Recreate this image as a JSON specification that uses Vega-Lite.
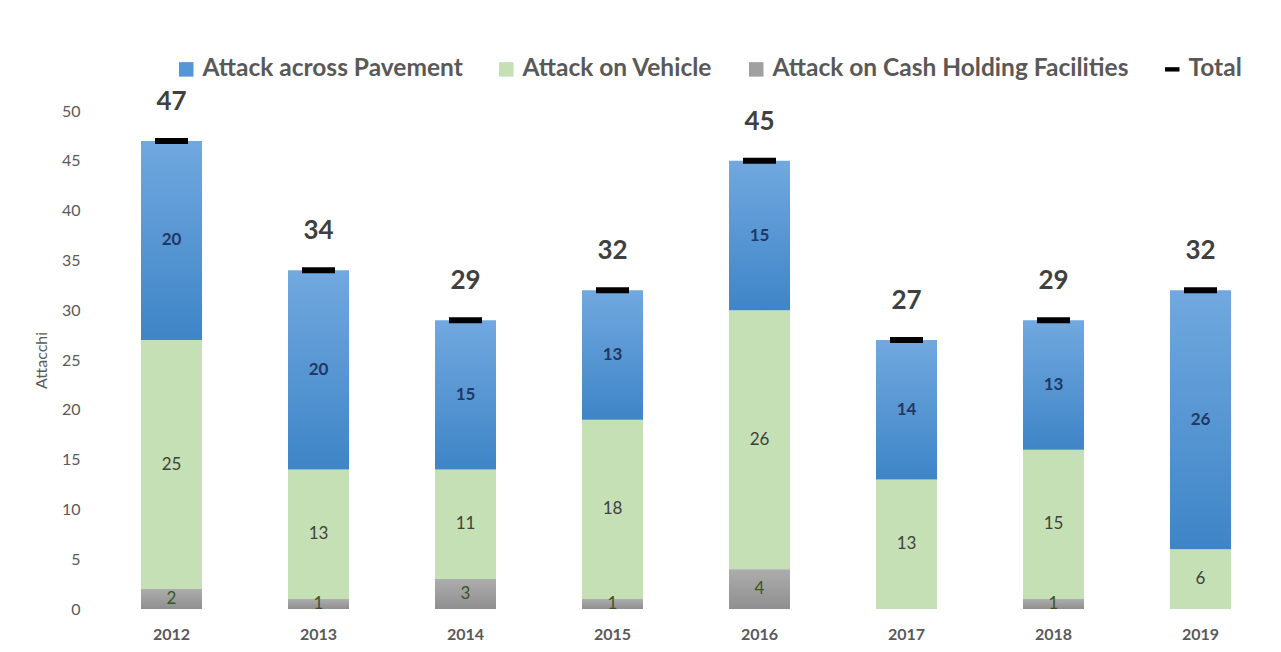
{
  "$schema": "https://vega.github.io/schema/vega-lite/v6.json",
  "width": 1176,
  "height": 498,
  "padding": {"left": 98, "top": 111, "right": 7, "bottom": 43},
  "autosize": {"type": "none"},
  "background": "white",
  "config": {
    "font": "Lato",
    "view": {"stroke": null}
  },
  "datasets": {
    "segs": [
      {"year": "2012", "series": "Attack on Cash Holding Facilities", "ord": 1, "value": 2},
      {"year": "2012", "series": "Attack on Vehicle", "ord": 2, "value": 25},
      {"year": "2012", "series": "Attack across Pavement", "ord": 3, "value": 20},
      {"year": "2013", "series": "Attack on Cash Holding Facilities", "ord": 1, "value": 1},
      {"year": "2013", "series": "Attack on Vehicle", "ord": 2, "value": 13},
      {"year": "2013", "series": "Attack across Pavement", "ord": 3, "value": 20},
      {"year": "2014", "series": "Attack on Cash Holding Facilities", "ord": 1, "value": 3},
      {"year": "2014", "series": "Attack on Vehicle", "ord": 2, "value": 11},
      {"year": "2014", "series": "Attack across Pavement", "ord": 3, "value": 15},
      {"year": "2015", "series": "Attack on Cash Holding Facilities", "ord": 1, "value": 1},
      {"year": "2015", "series": "Attack on Vehicle", "ord": 2, "value": 18},
      {"year": "2015", "series": "Attack across Pavement", "ord": 3, "value": 13},
      {"year": "2016", "series": "Attack on Cash Holding Facilities", "ord": 1, "value": 4},
      {"year": "2016", "series": "Attack on Vehicle", "ord": 2, "value": 26},
      {"year": "2016", "series": "Attack across Pavement", "ord": 3, "value": 15},
      {"year": "2017", "series": "Attack on Cash Holding Facilities", "ord": 1, "value": 0},
      {"year": "2017", "series": "Attack on Vehicle", "ord": 2, "value": 13},
      {"year": "2017", "series": "Attack across Pavement", "ord": 3, "value": 14},
      {"year": "2018", "series": "Attack on Cash Holding Facilities", "ord": 1, "value": 1},
      {"year": "2018", "series": "Attack on Vehicle", "ord": 2, "value": 15},
      {"year": "2018", "series": "Attack across Pavement", "ord": 3, "value": 13},
      {"year": "2019", "series": "Attack on Cash Holding Facilities", "ord": 1, "value": 0},
      {"year": "2019", "series": "Attack on Vehicle", "ord": 2, "value": 6},
      {"year": "2019", "series": "Attack across Pavement", "ord": 3, "value": 26}
    ],
    "totals": [
      {"year": "2012", "series": "Total", "total": 47},
      {"year": "2013", "series": "Total", "total": 34},
      {"year": "2014", "series": "Total", "total": 29},
      {"year": "2015", "series": "Total", "total": 32},
      {"year": "2016", "series": "Total", "total": 45},
      {"year": "2017", "series": "Total", "total": 27},
      {"year": "2018", "series": "Total", "total": 29},
      {"year": "2019", "series": "Total", "total": 32}
    ],
    "legendItems": [
      {"year": "2012", "series": "Attack across Pavement", "v": 0},
      {"year": "2012", "series": "Attack on Vehicle", "v": 0},
      {"year": "2012", "series": "Attack on Cash Holding Facilities", "v": 0},
      {"year": "2012", "series": "Total", "v": 0}
    ]
  },
  "encoding": {
    "x": {
      "field": "year", "type": "nominal",
      "scale": {"paddingInner": 0.585, "paddingOuter": 0.2925},
      "axis": {"title": null, "labelAngle": 0, "domain": false, "ticks": false, "labelFont": "Lato", "labelFontWeight": "bold", "labelFontSize": 16, "labelColor": "#595959", "labelPadding": 17}
    }
  },
  "layer": [
    {
      "data": {"name": "segs"},
      "transform": [
        {"stack": "value", "groupby": ["year"], "sort": [{"field": "ord"}], "as": ["v0", "v1"]},
        {"filter": "datum.series == 'Attack on Vehicle'"}
      ],
      "mark": {"type": "bar", "fill": "#C5E0B4"},
      "encoding": {
        "y": {
          "field": "v1", "type": "quantitative",
          "scale": {"domain": [0, 50]},
          "axis": {"title": "Attacchi", "titleFontWeight": "normal", "titleFontSize": 16, "titleColor": "#595959", "titlePadding": 12, "values": [0,5,10,15,20,25,30,35,40,45,50], "grid": false, "domain": false, "ticks": false, "labelFontSize": 16, "labelColor": "#595959", "labelPadding": 18}
        },
        "y2": {"field": "v0"}
      }
    },
    {
      "data": {"name": "segs"},
      "transform": [
        {"stack": "value", "groupby": ["year"], "sort": [{"field": "ord"}], "as": ["v0", "v1"]},
        {"filter": "datum.series == 'Attack across Pavement'"}
      ],
      "mark": {"type": "bar", "fill": {"gradient": "linear", "x1": 0, "y1": 0, "x2": 0, "y2": 1, "stops": [{"offset": 0, "color": "#71A8DF"}, {"offset": 1, "color": "#3E85C7"}]}},
      "encoding": {"y": {"field": "v1", "type": "quantitative"}, "y2": {"field": "v0"}}
    },
    {
      "data": {"name": "segs"},
      "transform": [
        {"stack": "value", "groupby": ["year"], "sort": [{"field": "ord"}], "as": ["v0", "v1"]},
        {"filter": "datum.series == 'Attack on Cash Holding Facilities' && datum.value > 0"}
      ],
      "mark": {"type": "bar", "fill": {"gradient": "linear", "x1": 0, "y1": 0, "x2": 0, "y2": 1, "stops": [{"offset": 0, "color": "#ADADAD"}, {"offset": 1, "color": "#8F8F8F"}]}},
      "encoding": {"y": {"field": "v1", "type": "quantitative"}, "y2": {"field": "v0"}}
    },
    {
      "data": {"name": "segs"},
      "transform": [
        {"stack": "value", "groupby": ["year"], "sort": [{"field": "ord"}], "as": ["v0", "v1"]},
        {"calculate": "(datum.v0 + datum.v1) / 2", "as": "mid"},
        {"filter": "datum.series == 'Attack across Pavement'"}
      ],
      "mark": {"type": "text", "fontSize": 17, "fontWeight": "bold", "color": "#1F3864", "baseline": "middle"},
      "encoding": {"y": {"field": "mid", "type": "quantitative"}, "text": {"field": "value"}}
    },
    {
      "data": {"name": "segs"},
      "transform": [
        {"stack": "value", "groupby": ["year"], "sort": [{"field": "ord"}], "as": ["v0", "v1"]},
        {"calculate": "(datum.v0 + datum.v1) / 2", "as": "mid"},
        {"filter": "datum.series == 'Attack on Vehicle'"}
      ],
      "mark": {"type": "text", "fontSize": 17, "color": "#404040", "baseline": "middle"},
      "encoding": {"y": {"field": "mid", "type": "quantitative"}, "text": {"field": "value"}}
    },
    {
      "data": {"name": "segs"},
      "transform": [
        {"stack": "value", "groupby": ["year"], "sort": [{"field": "ord"}], "as": ["v0", "v1"]},
        {"calculate": "(datum.v0 + datum.v1) / 2", "as": "mid"},
        {"filter": "datum.series == 'Attack on Cash Holding Facilities' && datum.value > 0"}
      ],
      "mark": {"type": "text", "fontSize": 17, "color": "#375623", "baseline": "middle"},
      "encoding": {"y": {"field": "mid", "type": "quantitative"}, "text": {"field": "value"}}
    },
    {
      "data": {"name": "totals"},
      "mark": {"type": "tick", "size": 33, "thickness": 6, "color": "#000000", "opacity": 1},
      "encoding": {"y": {"field": "total", "type": "quantitative"}}
    },
    {
      "data": {"name": "totals"},
      "mark": {"type": "text", "fontSize": 26, "fontWeight": "bold", "color": "#404040", "baseline": "alphabetic", "dy": -31},
      "encoding": {"y": {"field": "total", "type": "quantitative"}, "text": {"field": "total"}}
    },
    {
      "data": {"name": "legendItems"},
      "mark": {"type": "point", "filled": true, "opacity": 0},
      "encoding": {
        "y": {"field": "v", "type": "quantitative"},
        "color": {"field": "series", "type": "nominal",
          "scale": {
            "domain": ["Attack across Pavement", "Attack on Vehicle", "Attack on Cash Holding Facilities", "Total"],
            "range": ["#5496D6", "#C5E0B4", "#A0A0A0", "#000000"]
          },
          "legend": {
            "title": null, "orient": "none", "legendX": 76, "legendY": -54, "direction": "horizontal",
            "labelFontSize": 24.5, "labelFontWeight": "bold", "labelColor": "#595959", "symbolSize": 210,
            "columnPadding": 31, "symbolStrokeWidth": 0, "labelOffset": 4, "labelLimit": 500, "symbolOpacity": 1
          }
        },
        "shape": {"field": "series", "type": "nominal",
          "scale": {"domain": ["Attack across Pavement", "Attack on Vehicle", "Attack on Cash Holding Facilities", "Total"], "range": ["square", "square", "square", "M-1,-0.3H1V0.3H-1Z"]},
          "legend": {
            "title": null, "orient": "none", "legendX": 76, "legendY": -54, "direction": "horizontal",
            "labelFontSize": 24.5, "labelFontWeight": "bold", "labelColor": "#595959", "symbolSize": 210,
            "columnPadding": 31, "symbolStrokeWidth": 0, "labelOffset": 4, "labelLimit": 500, "symbolOpacity": 1
          }
        }
      }
    }
  ]
}
